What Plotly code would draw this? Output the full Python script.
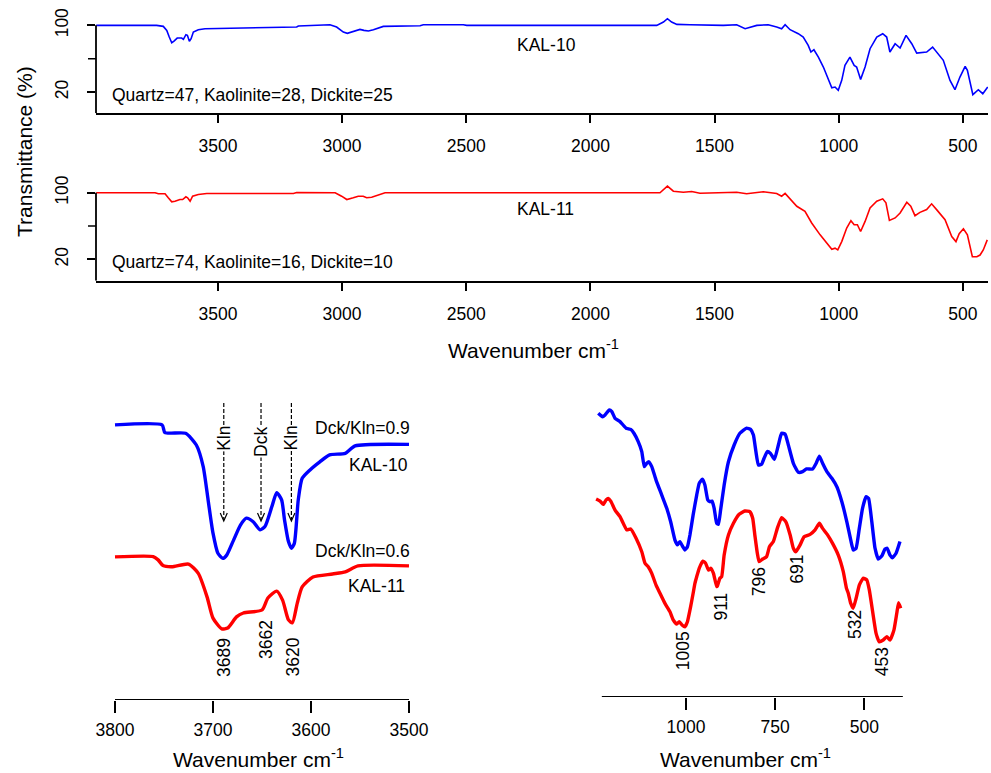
import plotly.graph_objects as go

# ---------------- data ----------------
# Full-range spectra (top two panels): wavenumber (cm-1) and transmittance (%)
wn_kal10 = [3990, 3747, 3720, 3706, 3696, 3686, 3677, 3664, 3646, 3639, 3629, 3623, 3615, 3608, 3599,
            3579, 3552, 3438, 3183, 3176, 3055, 3049, 3022, 2995, 2979, 2961, 2928, 2912, 2894, 2874,
            2834, 2686, 2673, 2512, 2498, 2364, 1733, 1706, 1690, 1673, 1652, 1599, 1465, 1411, 1377,
            1330, 1284, 1250, 1230, 1216, 1196, 1163, 1143, 1123, 1112, 1100, 1082, 1062, 1046, 1028,
            1015, 1002, 988, 975, 955, 938, 928, 912, 894, 874, 847, 823, 807, 794, 773, 753, 729, 706,
            686, 646, 622, 599, 579, 552, 532, 512, 491, 482, 460, 438, 420, 400]
t_kal10 = [100, 100, 98.8, 94, 86, 79.2, 81.2, 84.8, 84.8, 83.2, 88.8, 88, 80.8, 84, 92,
           94.8, 96, 96.8, 98, 99.2, 100, 100.8, 98, 92, 90.4, 92, 95.2, 94, 93.2, 94.8,
           98.8, 99.6, 100.8, 100.8, 100, 100, 100, 104, 108, 104, 101.2, 100.8, 100, 100.8, 96,
           100, 100.8, 98, 96, 100.8, 94.8, 90, 86, 76, 68, 70.8, 62, 50, 38, 25.2,
           26, 22, 34, 52, 62, 52, 50, 35.2, 50, 72, 86, 90, 86, 68, 78, 72.8, 88, 78,
           66.8, 68, 74, 66, 58, 34, 22.8, 38, 50.8, 46, 16.8, 22.8, 18, 26]

wn_kal11 = [3990, 3753, 3740, 3713, 3700, 3686, 3673, 3653, 3642, 3629, 3622, 3612, 3602, 3579, 3545,
            3196, 3183, 3028, 3002, 2981, 2955, 2935, 2915, 2901, 2881, 2827, 2364, 1720, 1690, 1666,
            1626, 1592, 1559, 1411, 1371, 1304, 1250, 1230, 1216, 1196, 1169, 1136, 1109, 1075, 1049,
            1028, 1015, 1004, 988, 968, 951, 938, 925, 912, 894, 874, 847, 823, 810, 796, 773, 753,
            726, 710, 693, 673, 646, 626, 606, 572, 545, 528, 515, 498, 482, 462, 444, 431, 418, 402]
t_kal11 = [100, 100, 98.8, 98.8, 94, 89.1, 89.8, 91.9, 91.9, 95.2, 94, 89.8, 95.9, 97.9, 99.2,
           99.2, 100.4, 100, 95.9, 91.9, 94, 95.9, 95.9, 94, 94.7, 100, 100, 100, 108, 101.9,
           100.7, 101.6, 99.5, 100.7, 98.8, 101.2, 99.2, 95.9, 99.2, 92.7, 83.8, 77.7, 63.7, 49.5, 40.2,
           32.2, 33.5, 31.4, 41.4, 57.7, 66.5, 61.6, 61.6, 53.5, 65.6, 81.9, 89.8, 92.7, 87.9, 66.8, 69.8, 75.8,
           88.6, 83.8, 72.5, 76.5, 79.8, 86.7, 79.8, 67.7, 47.5, 41.4, 50.8, 56.8, 49.5, 23.3, 23.3, 25.3, 31.4, 43.5]

# OH-stretching region (bottom-left), offset transmittance (a.u.)
wn_oh_kal10 = [3800, 3752, 3749, 3728, 3717, 3710, 3705, 3700, 3695, 3690, 3686, 3679, 3672, 3666, 3659,
               3652, 3647, 3640, 3635, 3630, 3627, 3623, 3620, 3617, 3613, 3609, 3601, 3591, 3581, 3565,
               3555, 3500]
t_oh_kal10 = [91.7, 91.7, 89.1, 88.9, 85, 77.8, 66.7, 55.6, 48.9, 47.2, 48.3, 53.3, 58.3, 60.6, 59.4,
              56.7, 57.8, 64.4, 69.1, 66.7, 60, 52.8, 50.6, 52.2, 66.7, 73.9, 76.7, 79.4, 81.7, 82.2,
              84.7, 85.2]
wn_oh_kal11 = [3800, 3761, 3756, 3751, 3742, 3725, 3715, 3706, 3700, 3691, 3685, 3676, 3669, 3650, 3644,
               3635, 3629, 3623, 3619, 3614, 3609, 3598, 3578, 3565, 3552, 3500]
t_oh_kal11 = [47.7, 47.8, 46.7, 44.8, 44.4, 45.3, 42.2, 34.3, 27.3, 23.7, 24, 27.7, 29, 30, 34,
              36.3, 33.3, 26.7, 25.7, 32.3, 37.7, 41, 42, 42.7, 44.7, 44.7]

# Fingerprint region (bottom-right), offset transmittance (a.u.)
wn_fp_kal10 = [1246, 1234, 1227, 1215, 1208, 1199, 1185, 1168, 1155, 1146, 1134, 1124, 1117, 1110, 1104,
               1096, 1084, 1068, 1054, 1043, 1031, 1024, 1017, 1009, 1003, 996, 989, 980, 970, 963,
               954, 947, 939, 933, 927, 921, 914, 909, 903, 893, 881, 865, 849, 830, 819, 811, 804,
               797, 788, 781, 772, 763, 752, 741, 732, 722, 713, 699, 685, 673, 662, 645, 635, 626,
               617, 605, 591, 577, 563, 549, 538, 531, 523, 514, 505, 495, 488, 479, 470, 461, 451,
               442, 436, 428, 421, 411, 400]
t_fp_kal10 = [94.6, 93.4, 94, 95.7, 95.1, 92.9, 91.8, 89.6, 89.2, 87.9, 85.1, 81.8, 76.8, 77.9, 78.4,
              76.8, 72.3, 67.3, 62.9, 58.4, 52.3, 50.7, 51.8, 50.1, 49, 50.1, 54, 60.7, 67.3, 71.2,
              72.6, 70.7, 65.7, 65.1, 65.3, 62.9, 57.9, 57.6, 62.3, 70.7, 78.4, 84, 87.9, 89.6, 89.2, 87.3, 81.8,
              77.3, 77.6, 79.6, 81.8, 81.2, 79.2, 84, 87.9, 87.6, 84, 77.9, 74.9, 75.1, 76, 76, 77.9, 80.3,
              77.9, 75.1, 72.9, 70.1, 65.1, 58.4, 52.3, 49, 49.6, 56.2, 62.9, 66.8, 66.2, 58.4, 49.6, 46, 47,
              49.3, 49.6, 47.3, 46.4, 47.9, 51.8]
wn_fp_kal11 = [1252, 1241, 1232, 1224, 1218, 1211, 1199, 1185, 1166, 1155, 1140, 1124, 1115, 1106, 1096,
               1084, 1073, 1059, 1045, 1036, 1026, 1019, 1011, 1003, 996, 987, 980, 975, 970, 963,
               953, 945, 937, 930, 923, 914, 912, 905, 900, 893, 881, 867, 851, 835, 821, 813, 807,
               800, 795, 785, 774, 766, 755, 744, 732, 720, 708, 699, 692, 680, 669, 652, 638, 626,
               617, 604, 589, 573, 559, 550, 545, 538, 531, 523, 514, 503, 493, 486, 476, 467, 458,
               447, 437, 428, 417, 409, 404, 398]
t_fp_kal11 = [66, 65.3, 64.2, 65.7, 66.2, 65.3, 62.3, 60.1, 55.7, 56, 52.9, 48.4, 44.6, 43.4, 41.2,
              37.3, 34.6, 31.2, 28.4, 25.7, 24.3, 25.1, 24, 23.4, 25.1, 30.1, 34.6, 37.9, 40.1, 42.9,
              45.3, 44.6, 42.3, 42.9, 41.2, 36.8, 37, 39.6, 40.1, 47.3, 54, 57.9, 60.9, 62, 61.8, 59.6, 54,
              47.9, 45.1, 46, 46.8, 50.1, 51.8, 56.2, 59.8, 58.4, 54, 49.6, 48.4, 50.7, 53.4, 54.2, 55.7, 57.9,
              56.2, 54.2, 51.2, 47.3, 41.8, 36.2, 34.6, 31.2, 29.6, 32.9, 37.3, 39.6, 39, 35.7, 27.9, 21.2, 18.4,
              19, 20.1, 19, 22.3, 27.9, 31.4, 29.6]

samples = ["KAL-10", "KAL-11"]
compositions = ["Quartz=47, Kaolinite=28, Dickite=25", "Quartz=74, Kaolinite=16, Dickite=10"]
ratios = ["Dck/Kln=0.9", "Dck/Kln=0.6"]
band_names = ["Kln", "Dck", "Kln"]
band_wn = [3689, 3651, 3620]
oh_peak_labels = ["3689", "3662", "3620"]
fp_peak_labels = ["1005", "911", "796", "691", "532", "453"]
top_xticks = [3500, 3000, 2500, 2000, 1500, 1000, 500]
top_yticks = [20, 100]
top_ytick_minor = 60
oh_xticks = [3800, 3700, 3600, 3500]
fp_xticks = [1000, 750, 500]

# ---------------- layout helpers ----------------
W, H = 991, 773
FONT = "Liberation Sans, Arial, sans-serif"
TICK = 17.5
TITLE = 21
BLUE, RED = "#0000FF", "#FF0000"


def px_x(p):
    return p / W


def px_y(p):
    return 1 - p / H


fig = go.Figure()

# top panels
for i, (wn, t, col) in enumerate([(wn_kal10, t_kal10, BLUE), (wn_kal11, t_kal11, RED)]):
    fig.add_trace(go.Scatter(x=wn, y=t, mode="lines", line=dict(color=col, width=1.6),
                             xaxis="x" if i == 0 else "x2", yaxis="y" if i == 0 else "y2",
                             showlegend=False, hoverinfo="skip"))
# bottom-left
fig.add_trace(go.Scatter(x=wn_oh_kal10, y=t_oh_kal10, mode="lines",
                         line=dict(color=BLUE, width=3.4, shape="spline", smoothing=0.6),
                         xaxis="x3", yaxis="y3", showlegend=False))
fig.add_trace(go.Scatter(x=wn_oh_kal11, y=t_oh_kal11, mode="lines",
                         line=dict(color=RED, width=3.4, shape="spline", smoothing=0.6),
                         xaxis="x3", yaxis="y3", showlegend=False))
# bottom-right
fig.add_trace(go.Scatter(x=wn_fp_kal10, y=t_fp_kal10, mode="lines",
                         line=dict(color=BLUE, width=3.4, shape="spline", smoothing=0.4),
                         xaxis="x4", yaxis="y4", showlegend=False))
fig.add_trace(go.Scatter(x=wn_fp_kal11, y=t_fp_kal11, mode="lines",
                         line=dict(color=RED, width=3.4, shape="spline", smoothing=0.4),
                         xaxis="x4", yaxis="y4", showlegend=False))

ax_common = dict(showgrid=False, zeroline=False, ticks="outside", tickcolor="black", automargin=False,
                 tickwidth=1.5, tickfont=dict(family=FONT, size=TICK, color="black"))

top_dom_x = [px_x(96), px_x(988)]
yr = [-5.5, 120]
layout = dict(
    width=W, height=H, margin=dict(l=0, r=0, t=0, b=0, pad=0), autosize=False,
    paper_bgcolor="white", plot_bgcolor="white", showlegend=False,
    font=dict(family=FONT, size=TICK, color="black"),
    xaxis=dict(domain=top_dom_x, range=[3991, 399], anchor="y", tickvals=top_xticks,
               showline=True, linecolor="black", linewidth=1.8, ticklen=8, ticklabelstandoff=8, **ax_common),
    yaxis=dict(domain=[px_y(113.3), px_y(8.7)], range=yr, anchor="x", tickvals=top_yticks,
               tickangle=-90, ticklen=8, ticklabelstandoff=12, **ax_common),
    xaxis2=dict(domain=top_dom_x, range=[3991, 399], anchor="y2", tickvals=top_xticks,
                showline=True, linecolor="black", linewidth=1.8, ticklen=8, ticklabelstandoff=8, **ax_common),
    yaxis2=dict(domain=[px_y(280.7), px_y(176.1)], range=yr, anchor="x2", tickvals=top_yticks,
                tickangle=-90, ticklen=8, ticklabelstandoff=12, **ax_common),
    xaxis3=dict(domain=[px_x(110), px_x(414)], range=[3805.1, 3494.9], anchor="y3", tickvals=oh_xticks,
                ticklen=12, ticklabelstandoff=2, **ax_common),
    yaxis3=dict(domain=[px_y(700), px_y(390)], range=[0, 103.33], anchor="x3", visible=False, automargin=False),
    xaxis4=dict(domain=[px_x(590), px_x(910)], range=[1269.2, 371.9], anchor="y4", tickvals=fp_xticks,
                ticklen=12, ticklabelstandoff=2, **ax_common),
    yaxis4=dict(domain=[px_y(697), px_y(387)], range=[0, 103.33], anchor="x4", visible=False, automargin=False),
)
fig.update_layout(**layout)

shapes = []
# y axis lines of top panels (from 100 down to bottom) + unlabelled middle tick
for xr, yref in [("x domain", "y"), ("x2 domain", "y2")]:
    shapes.append(dict(type="line", xref=xr, yref=yref, x0=0, x1=0, y0=yr[0], y1=100,
                       line=dict(color="black", width=1.8)))
    shapes.append(dict(type="line", xref=xr, yref=yref, xsizemode="pixel", xanchor=0, x0=-8, x1=0,
                       y0=top_ytick_minor, y1=top_ytick_minor, line=dict(color="black", width=1.5)))
# bottom axis lines
shapes.append(dict(type="line", xref="x3", yref="y3", x0=3800, x1=3500, y0=0, y1=0,
                   line=dict(color="black", width=1.8)))
shapes.append(dict(type="line", xref="x4", yref="y4", x0=1236, x1=392, y0=0, y1=0,
                   line=dict(color="black", width=1.8)))
# dashed arrows
for w in band_wn:
    shapes.append(dict(type="line", xref="x3", yref="y3", x0=w, x1=w, y0=99, y1=60,
                       line=dict(color="black", width=1.2, dash="4px,2px")))
    shapes.append(dict(type="path", xref="x3", yref="y3", xsizemode="pixel", ysizemode="pixel",
                       xanchor=w, yanchor=59.7, path="M-3.5,8 L0,0 L3.5,8",
                       line=dict(color="black", width=1.2)))
fig.update_layout(shapes=shapes)

ann = []
tf = dict(family=FONT, size=TICK, color="black")
# top panel texts
ann.append(dict(x=3935, y=16.5, xref="x", yref="y", text=compositions[0], showarrow=False,
                xanchor="left", yanchor="middle", font=tf))
ann.append(dict(x=2304, y=76.5, xref="x", yref="y", text=samples[0], showarrow=False,
                xanchor="left", yanchor="middle", font=tf))
ann.append(dict(x=3935, y=16.5, xref="x2", yref="y2", text=compositions[1], showarrow=False,
                xanchor="left", yanchor="middle", font=tf))
ann.append(dict(x=2304, y=80.5, xref="x2", yref="y2", text=samples[1], showarrow=False,
                xanchor="left", yanchor="middle", font=tf))
# axis titles
tt = dict(family=FONT, size=TITLE, color="black")
ann.append(dict(x=px_x(25), y=px_y(152), xref="paper", yref="paper", text="Transmittance (%)",
                textangle=-90, showarrow=False, xanchor="center", yanchor="middle", font=tt))
ann.append(dict(x=px_x(533), y=px_y(349), xref="paper", yref="paper", text="Wavenumber cm<sup>-1</sup>",
                showarrow=False, xanchor="center", yanchor="middle", font=tt))
ann.append(dict(x=px_x(258), y=px_y(758), xref="paper", yref="paper", text="Wavenumber cm<sup>-1</sup>",
                showarrow=False, xanchor="center", yanchor="middle", font=tt))
ann.append(dict(x=px_x(745), y=px_y(758), xref="paper", yref="paper", text="Wavenumber cm<sup>-1</sup>",
                showarrow=False, xanchor="center", yanchor="middle", font=tt))
# bottom-left texts
for txt, x, y in [(ratios[0], 3497, 90.7), (samples[0], 3499, 78.3), (ratios[1], 3497, 49.7), (samples[1], 3502, 38)]:
    ann.append(dict(x=x, y=y, xref="x3", yref="y3", text=txt, showarrow=False,
                    xanchor="right", yanchor="middle", font=tf))
for name, w, y in zip(band_names, band_wn, [87.3, 86, 87.3]):
    ann.append(dict(x=w, y=y, xref="x3", yref="y3", text=name, showarrow=False, textangle=-90,
                    xanchor="center", yanchor="middle", font=tf, bgcolor="white", borderpad=0))
for lab, w, y in zip(oh_peak_labels, [3689, 3646, 3618], [14.3, 20.3, 14.3]):
    ann.append(dict(x=w, y=y, xref="x3", yref="y3", text=lab, showarrow=False, textangle=-90,
                    xanchor="center", yanchor="middle", font=tf))
# bottom-right peak labels
for lab, w, y in zip(fp_peak_labels, [1008, 903, 795, 689, 526, 452], [15.3, 30, 38.3, 42.7, 24, 11.7]):
    ann.append(dict(x=w, y=y, xref="x4", yref="y4", text=lab, showarrow=False, textangle=-90,
                    xanchor="center", yanchor="middle", font=tf))
fig.update_layout(annotations=ann)

fig.write_html("out.html")
